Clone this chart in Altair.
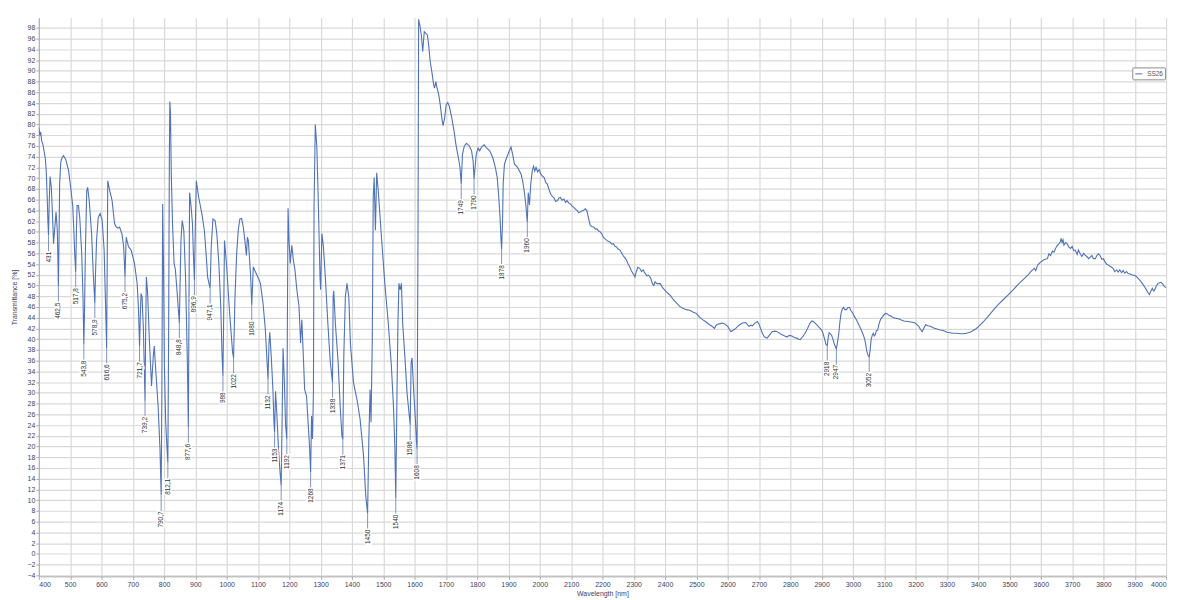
import altair as alt
import pandas as pd

# ---- spectrum: (wavenumber, transmittance %) ----
spec_400_1000 = [
    (400, 79.4), (403, 78.0), (406, 78.6), (409, 77.0), (413, 76.3), (417, 75.0), (421, 73.5),
    (424, 71.0), (427, 66.0), (429, 62.0), (431, 59.3), (433, 65.0), (436, 70.3), (440, 68.3),
    (444, 62.7), (447, 57.8), (450, 60.0), (455, 63.7), (459, 60.3), (461, 55.0), (462.5, 49.8),
    (464, 56.0), (466.5, 68.9), (470, 72.9), (474, 73.8), (479, 74.2), (486, 73.5), (495, 71.4),
    (503, 67.7), (508.6, 64.6), (512, 60.0), (514.5, 56.0), (517.8, 52.5), (520, 60.0),
    (522.3, 64.9), (526.5, 64.9), (530.7, 62.7), (537, 55.9), (541, 48.0), (543.8, 39.0),
    (546, 45.0), (548.6, 55.9), (553, 67.7), (556, 68.3), (561, 65.8), (568.6, 59.6), (574, 52.2),
    (578.9, 46.7), (581, 52.0), (584.4, 58.4), (589.7, 62.7), (596, 63.4), (602.3, 62.1),
    (608.6, 56.6), (613, 46.7), (616.6, 38.3), (618.5, 55.0), (620.2, 69.5), (626.5, 67.7),
    (634, 65.8), (642, 61.5), (647.6, 60.9), (653, 60.7), (658, 60.9), (665.5, 59.6), (671, 57.2),
    (675.2, 51.6), (679, 59.0), (686.5, 57.2), (695, 56.6), (705.5, 54.1), (714, 50.4), (718, 46.1),
    (721.7, 38.7), (724, 44.0), (726.5, 48.5), (729.7, 47.9), (734, 41.8), (739.2, 28.5),
    (741, 40.0), (743.4, 51.6), (747.6, 48.5), (753, 39.9), (760, 31.3), (765.5, 36.8),
    (768.6, 38.7), (774, 33.7), (781, 27.5), (787, 19.5), (790.7, 10.9), (793, 30.0),
    (795.5, 65.2), (798, 55.0), (801, 35.0), (805, 25.0), (809, 20.0), (812.1, 17.0),
    (814.5, 40.0), (817, 75.0), (818.5, 84.3), (820.5, 82.0), (823, 70.8), (827, 61.5),
    (832, 54.1), (836, 53.0), (842, 48.5), (845, 46.0), (848.8, 43.0), (851, 50.0), (854, 58.4),
    (858, 62.1), (863, 60.3), (868.6, 51.6), (874, 36.8), (877.6, 23.5), (879.5, 45.0),
    (881.5, 67.3), (886.5, 64.6), (890.7, 61.5), (893.5, 56.0), (896.9, 51.0), (899.5, 60.0),
    (903, 69.5), (910.7, 66.4), (921, 63.3), (928.6, 60.3), (935, 55.3), (939, 51.6),
    (943, 50.5), (947.1, 49.5), (950.5, 57.0), (956, 62.4), (963, 62.1), (968.6, 59.6),
    (975, 54.1), (981, 46.1), (985, 37.4), (988, 33.1), (990.5, 45.0), (993, 58.4),
]
spec_1000_1610 = [
    (1000, 53.5), (1008, 46.0), (1015, 40.5), (1019, 37.5), (1022, 36.5), (1026.5, 47.9),
    (1031.8, 55.9), (1037, 60.3), (1042, 62.4), (1047.6, 62.5), (1053, 60.9), (1058, 58.4),
    (1063, 55.6), (1066, 59.0), (1069, 58.4), (1074, 54.1), (1077, 51.0), (1080, 46.3),
    (1085, 53.5), (1092, 52.5), (1100, 51.5), (1107.6, 50.4), (1116, 46.7), (1123.4, 41.8),
    (1129.7, 34.9), (1132, 32.5), (1135, 39.0), (1137.5, 41.3), (1142.3, 36.8), (1147.6, 30.6),
    (1151, 24.5), (1153, 22.6), (1156, 30.3), (1160, 26.3), (1165.5, 19.5), (1170, 15.5),
    (1174, 12.7), (1177, 25.0), (1180, 38.3), (1184, 32.5), (1188, 24.0), (1192, 21.4),
    (1194, 45.0), (1196, 64.4), (1199, 58.4), (1203, 54.1), (1208, 57.5), (1213, 54.7),
    (1218, 52.9), (1224, 49.2), (1231, 46.1), (1236, 39.3), (1240, 43.6), (1244, 38.0),
    (1249, 30.6), (1255, 29.4), (1260, 24.5), (1265, 19.5), (1268, 15.2), (1271, 25.7),
    (1274, 21.4), (1277, 30.0), (1279, 64.6), (1283, 80.0), (1288, 75.7), (1293, 64.6),
    (1298, 51.6), (1300, 49.2), (1304, 59.7), (1309, 57.2), (1315, 51.6), (1323, 43.0),
    (1331, 35.6), (1338, 31.9), (1340, 47.9), (1342, 49.0), (1347, 43.0), (1356, 35.6),
    (1363, 26.9), (1368, 22.0), (1371, 21.4), (1374, 36.8), (1379, 47.9), (1384, 50.4),
    (1390, 47.9), (1395, 39.3), (1405, 31.9), (1416, 28.8), (1426, 25.1), (1437, 18.3),
    (1444, 10.9), (1450, 7.5), (1454, 21.4), (1458, 30.6), (1461, 24.5), (1465, 40.0),
    (1468, 66.4), (1471, 70.1), (1475, 60.3), (1479, 71.0), (1484, 67.7), (1495, 58.4),
    (1505, 50.4), (1516, 43.0), (1526, 35.0), (1533, 27.0), (1537, 20.0), (1540, 10.3),
    (1544, 30.6), (1547, 43.0), (1550, 50.4), (1554, 49.2), (1558, 50.4), (1562, 43.0),
    (1569, 36.8), (1576, 30.0), (1581, 27.0), (1586, 24.0), (1589, 35.6), (1592, 36.5),
    (1597, 30.6), (1602, 25.7), (1606, 21.0), (1608, 19.5), (1611, 60.0),
]
spec_1610_2300 = [
    (1613, 99.6), (1617, 98.5), (1622, 96.5), (1626, 93.6), (1631, 97.3), (1636, 97.0),
    (1641, 96.7), (1645, 94.8), (1650, 91.7), (1655, 89.9), (1661, 87.4), (1664, 86.8),
    (1668, 88.0), (1672, 86.8), (1677, 85.6), (1682, 83.7), (1687, 81.2), (1691, 79.8),
    (1696, 81.2), (1701, 83.7), (1706, 84.1), (1711, 83.4), (1719, 81.2), (1726, 78.8),
    (1732, 76.3), (1740, 73.8), (1745, 72.0), (1749, 68.9), (1753, 74.5), (1759, 76.0),
    (1766, 76.5), (1775, 76.0), (1782, 75.1), (1787, 73.2), (1790, 69.8), (1797, 74.5),
    (1803, 75.6), (1808, 75.1), (1814, 75.8), (1822, 76.2), (1829, 75.7), (1840, 75.1),
    (1850, 73.8), (1858, 72.0), (1864, 70.1), (1869, 66.4), (1873, 62.7), (1876, 58.5),
    (1878, 56.8), (1881, 62.0), (1883, 68.9), (1887, 72.6), (1894, 73.8), (1903, 75.1),
    (1908, 75.8), (1913, 74.5), (1919, 72.6), (1929, 72.0), (1940, 70.8), (1945, 69.5),
    (1950, 67.7), (1955, 65.2), (1960, 61.8), (1963, 67.3), (1967, 65.0), (1971, 68.9),
    (1976, 71.4), (1980, 72.2), (1984, 71.3), (1988, 72.0), (1993, 71.2), (1998, 71.6),
    (2003, 70.8), (2008, 70.4), (2014, 70.1), (2019, 69.2), (2024, 68.9), (2030, 67.8),
    (2035, 67.0), (2040, 66.6), (2045, 66.4), (2050, 65.7), (2056, 65.8), (2061, 66.3),
    (2066, 66.4), (2071, 65.9), (2077, 66.1), (2082, 65.5), (2087, 65.8), (2093, 65.3),
    (2098, 65.2), (2103, 64.8), (2108, 64.6), (2114, 64.2), (2119, 64.0), (2124, 63.6),
    (2129, 63.7), (2134, 63.9), (2140, 64.0), (2145, 64.3), (2150, 64.0), (2155, 62.7),
    (2161, 61.2), (2166, 61.0), (2172, 60.9), (2177, 60.5), (2182, 60.6), (2187, 60.2),
    (2193, 60.0), (2198, 59.6), (2203, 59.0), (2208, 58.7), (2214, 58.4), (2219, 58.2),
    (2224, 58.1), (2230, 57.7), (2235, 57.8), (2240, 57.3), (2245, 57.2), (2250, 56.8),
    (2256, 56.6), (2261, 56.1), (2266, 55.6), (2271, 55.2), (2277, 54.7), (2282, 54.0),
    (2287, 53.5), (2292, 52.8), (2298, 52.2),
]
spec_2300_3300 = [
    (2304, 51.6), (2308, 52.6), (2313, 53.4), (2319, 53.2), (2325, 52.6), (2330, 52.9),
    (2336, 52.3), (2342, 51.8), (2348, 51.9), (2354, 51.4), (2360, 50.3), (2364, 50.0),
    (2368, 50.7), (2375, 50.3), (2384, 50.4), (2392, 49.6), (2400, 49.1), (2408, 48.6),
    (2416, 48.2), (2426, 47.4), (2437, 46.7), (2447, 46.1), (2458, 45.7), (2468, 45.5),
    (2479, 45.4), (2490, 45.0), (2500, 44.8), (2510, 44.1), (2521, 43.6), (2531, 43.2),
    (2542, 42.7), (2550, 42.4), (2558, 42.0), (2563, 42.6), (2568, 42.8), (2576, 42.9),
    (2584, 43.0), (2592, 42.8), (2600, 42.4), (2605, 41.9), (2610, 41.4), (2618, 41.7),
    (2626, 42.0), (2636, 42.6), (2647, 43.0), (2658, 43.1), (2663, 42.7), (2668, 42.4),
    (2674, 42.6), (2679, 42.5), (2687, 43.0), (2695, 43.3), (2700, 42.8), (2705, 42.0),
    (2710, 41.2), (2716, 40.5), (2721, 40.3), (2726, 40.2), (2734, 40.8), (2742, 41.4),
    (2750, 41.5), (2758, 41.4), (2766, 41.1), (2774, 40.8), (2782, 40.6), (2789, 40.4),
    (2797, 40.7), (2805, 40.6), (2813, 40.3), (2821, 40.2), (2826, 40.0), (2832, 39.9),
    (2840, 40.5), (2847, 41.1), (2855, 42.0), (2863, 43.0), (2869, 43.4), (2874, 43.3),
    (2879, 43.0), (2884, 42.7), (2892, 42.2), (2900, 41.7), (2905, 41.0), (2910, 39.9),
    (2914, 39.0), (2918, 38.8), (2921, 40.3), (2924, 41.2), (2928, 41.0), (2932, 40.7),
    (2936, 40.0), (2941, 39.0), (2947, 38.2), (2951, 39.5), (2955, 41.1), (2958, 43.0),
    (2962, 44.8), (2966, 45.6), (2970, 45.9), (2974, 45.5), (2979, 45.5), (2984, 45.9),
    (2989, 45.9), (2994, 45.3), (3000, 44.8), (3005, 44.2), (3011, 43.6), (3016, 43.0),
    (3021, 42.4), (3026, 41.8), (3031, 41.1), (3036, 40.3), (3040, 39.3), (3044, 37.8),
    (3049, 36.9), (3052, 36.7), (3055, 38.0), (3058, 39.9), (3062, 40.8), (3065, 41.1),
    (3068, 40.6), (3071, 40.8), (3075, 41.6), (3079, 41.7), (3084, 43.0), (3089, 43.8),
    (3095, 44.2), (3100, 44.6), (3105, 44.8), (3110, 44.7), (3116, 44.4), (3121, 44.3),
    (3129, 44.0), (3137, 43.9), (3145, 43.8), (3153, 43.6), (3163, 43.4), (3174, 43.3),
    (3184, 43.2), (3195, 43.1), (3203, 42.8), (3210, 42.4), (3216, 41.8), (3221, 41.4),
    (3226, 42.0), (3232, 42.7), (3240, 42.5), (3247, 42.4), (3258, 42.1), (3268, 41.9),
    (3279, 41.7), (3289, 41.6),
]
spec_3300_4000 = [
    (3300, 41.3), (3310, 41.2), (3320, 41.1), (3332, 41.1), (3342, 41.0), (3353, 41.0),
    (3363, 41.1), (3374, 41.3), (3384, 41.6), (3392, 41.9), (3400, 42.3), (3416, 43.2),
    (3431, 44.2), (3447, 45.3), (3463, 46.4), (3479, 47.3), (3495, 48.2), (3510, 49.1),
    (3526, 50.1), (3542, 51.0), (3558, 51.9), (3568, 52.6), (3579, 53.2), (3584, 52.8),
    (3590, 53.8), (3600, 54.4), (3610, 54.8), (3621, 55.0), (3626, 55.9), (3631, 55.6),
    (3637, 56.4), (3642, 56.2), (3647, 56.9), (3652, 57.4), (3658, 57.8), (3662, 58.1),
    (3665, 58.8), (3668, 58.0), (3671, 58.5), (3674, 57.5), (3679, 58.0), (3684, 57.8),
    (3689, 57.2), (3695, 56.9), (3700, 57.3), (3705, 56.5), (3710, 56.6), (3716, 55.8),
    (3720, 56.6), (3726, 55.9), (3731, 55.4), (3737, 56.0), (3742, 55.6), (3747, 55.4),
    (3753, 55.0), (3758, 55.3), (3763, 55.6), (3768, 55.0), (3774, 55.0), (3779, 55.6),
    (3784, 55.9), (3789, 55.6), (3795, 54.9), (3800, 55.0), (3805, 54.4), (3810, 54.0),
    (3816, 53.8), (3821, 53.6), (3826, 53.4), (3831, 53.2), (3836, 52.6), (3842, 52.9),
    (3847, 52.5), (3852, 52.9), (3858, 52.4), (3863, 52.8), (3868, 52.3), (3874, 52.6),
    (3879, 52.2), (3884, 52.2), (3890, 52.0), (3895, 51.9), (3900, 51.9), (3908, 51.5),
    (3916, 51.0), (3924, 50.4), (3931, 49.8), (3939, 49.0), (3943, 48.6), (3947, 48.3),
    (3951, 48.9), (3956, 49.5), (3960, 49.0), (3963, 49.1), (3968, 49.8), (3974, 50.4),
    (3979, 50.5), (3984, 50.6), (3989, 50.3), (3995, 49.8), (4000, 49.6),
]

# ---- labelled peaks ----
peak_wn = [431, 462.5, 517.8, 543.8, 578.9, 616.6, 675.2, 721.7, 739.2, 790.7, 812.1,
           848.8, 877.6, 896.9, 947.1, 988, 1022, 1080, 1132, 1153, 1174, 1192, 1268,
           1338, 1371, 1450, 1540, 1586, 1608, 1749, 1790, 1878, 1960, 2918, 2947, 3052]
peak_tr = [59.3, 49.8, 52.5, 39.0, 46.7, 38.3, 51.6, 38.7, 28.5, 10.9, 17.0,
           43.0, 23.5, 51.0, 49.5, 33.1, 36.5, 46.3, 32.5, 22.6, 12.7, 21.4, 15.2,
           31.9, 21.4, 7.5, 10.3, 24.0, 19.5, 68.9, 69.8, 56.8, 61.8, 38.8, 38.2, 36.7]
peak_text = ["431", "462,5", "517,8", "543,8", "578,9", "616,6", "675,2", "721,7", "739,2",
             "790,7", "812,1", "848,8", "877,6", "896,9", "947,1", "988", "1022", "1080",
             "1132", "1153", "1174", "1192", "1268", "1338", "1371", "1450", "1540", "1586",
             "1608", "1749", "1790", "1878", "1960", "2918", "2947", "3052"]

series_name = "SS26"
x_ticks = list(range(400, 4001, 100))
y_ticks = list(range(-4, 99, 2))

rows = []
for seg in (spec_400_1000, spec_1000_1610, spec_1610_2300, spec_2300_3300, spec_3300_4000):
    rows.extend(seg)
spectrum = pd.DataFrame(rows, columns=["wn", "tr"])
spectrum["series"] = series_name
peaks = pd.DataFrame({"wn": peak_wn, "tr": peak_tr, "label": peak_text})

FONT = "Liberation Sans"
AX_COLOR = "#3e3e5e"

X_SCALE = alt.Scale(domain=[400, 4000], nice=False, zero=False)
Y_SCALE = alt.Scale(domain=[-4.2, 99.9], nice=False, zero=False)
X_AXIS = alt.Axis(values=x_ticks, format="d", labelOverlap=False, labelAngle=0,
                  labelFontSize=7, titleFontSize=7, labelPadding=1, titlePadding=2,
                  tickSize=3)
Y_AXIS = alt.Axis(values=y_ticks, format="d", labelOverlap=False,
                  labelFontSize=7, titleFontSize=7, labelPadding=1, titlePadding=9,
                  tickSize=3, tickCount=len(y_ticks))


def xe(field):
    return alt.X(field, type="quantitative", title="Wavelength [nm]", scale=X_SCALE, axis=X_AXIS)


def ye(field):
    return alt.Y(field, type="quantitative", title="Transmittance [%]", scale=Y_SCALE, axis=Y_AXIS)


line = alt.Chart(spectrum).mark_line(strokeWidth=1.1, clip=True).encode(
    x=xe("wn"),
    y=ye("tr"),
    color=alt.Color(
        "series:N",
        scale=alt.Scale(range=["#4f72b8"]),
        legend=alt.Legend(
            title=None, orient="none", legendX=1100, legendY=50,
            symbolType="stroke", symbolSize=50, symbolStrokeWidth=1,
            labelFontSize=6.5, labelColor="#555555", labelFont=FONT,
            strokeColor="#8c8c8c", fillColor="white", padding=2, cornerRadius=1,
        ),
    ),
)

drops = alt.Chart(peaks).transform_calculate(tr_end="datum.tr - 3").mark_rule(
    color="#7f93c2", strokeWidth=1
).encode(x=xe("wn"), y=ye("tr"), y2="tr_end:Q")

halo = alt.Chart(peaks).transform_calculate(tr_end="datum.tr - 3").mark_text(
    angle=270, align="right", baseline="middle", fontSize=6.5, font=FONT,
    color="white", stroke="white", strokeWidth=3,
).encode(x=xe("wn"), y=ye("tr_end"), text="label:N")

labels = alt.Chart(peaks).transform_calculate(tr_end="datum.tr - 3").mark_text(
    angle=270, align="right", baseline="middle", fontSize=6.5, font=FONT, color="#333333",
).encode(x=xe("wn"), y=ye("tr_end"), text="label:N")

chart = alt.layer(line, drops, halo, labels).properties(
    width=1134,
    height=562,
    padding={"left": 31, "top": 8, "right": 10, "bottom": 22},
    autosize=alt.AutoSizeParams(type="none"),
    background="white",
).configure_axis(
    labelFont=FONT, titleFont=FONT, labelColor=AX_COLOR, titleColor=AX_COLOR,
    titleFontWeight="normal", gridColor="#d9d9d9", gridWidth=1.2,
    domainColor="#a9a9a9", tickColor="#a9a9a9",
).configure_view(stroke=None)

chart.save("out.html", embed_options={"renderer": "svg", "actions": False})
